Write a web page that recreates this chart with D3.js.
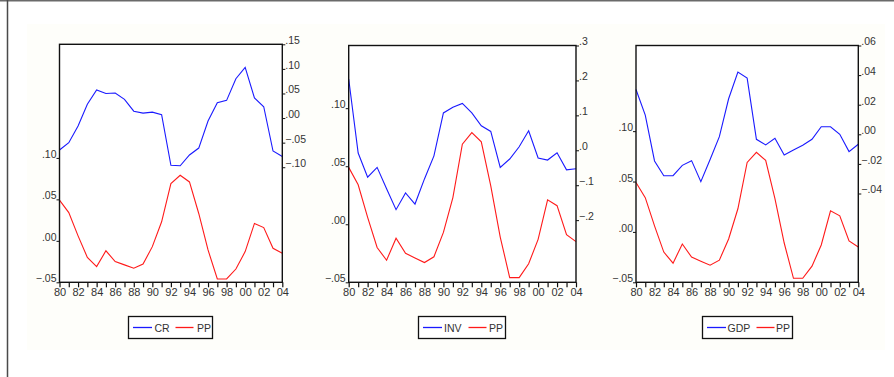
<!DOCTYPE html>
<html>
<head>
<meta charset="utf-8">
<script src="https://cdn.jsdelivr.net/npm/d3@7"></script>
<style>
  html, body { margin: 0; padding: 0; background: #ffffff; }
  svg { display: block; }
  text { font-family: "Liberation Sans", Arial, sans-serif; }
</style>
</head>
<body>
<svg id="chart" width="894" height="377"></svg>
<script>
// ---- Data ----
const years = d3.range(1980, 2005);
const xTickLabels = ["80","82","84","86","88","90","92","94","96","98","00","02","04"];

const pp  = [0.049, 0.034, 0.006, -0.020, -0.031, -0.012, -0.025, -0.029, -0.033, -0.028, -0.007, 0.023, 0.069, 0.079, 0.071, 0.033, -0.011, -0.046, -0.046, -0.034, -0.013, 0.021, 0.016, -0.009, -0.015];
const cr  = [-0.065, -0.050, -0.016, 0.028, 0.057, 0.050, 0.051, 0.038, 0.014, 0.010, 0.012, 0.007, -0.096, -0.097, -0.075, -0.061, -0.006, 0.031, 0.036, 0.080, 0.103, 0.041, 0.023, -0.067, -0.078];
const inv = [0.204, -0.008, -0.077, -0.049, -0.110, -0.170, -0.122, -0.154, -0.082, -0.016, 0.107, 0.123, 0.134, 0.107, 0.070, 0.054, -0.049, -0.025, 0.010, 0.056, -0.022, -0.028, -0.007, -0.056, -0.053];
const gdp = [0.0303, 0.013, -0.018, -0.028, -0.028, -0.021, -0.0178, -0.032, -0.017, -0.0016, 0.024, 0.042, 0.038, -0.0034, -0.0072, -0.0027, -0.014, -0.0106, -0.0074, -0.0034, 0.0051, 0.0051, 0.000, -0.0117, -0.0067];

const leftTicks   = [-0.05, 0.00, 0.05, 0.10];
const crTicks     = [-0.10, -0.05, 0.00, 0.05, 0.10, 0.15];
const invTicks    = [-0.2, -0.1, 0.0, 0.1, 0.2, 0.3];
const gdpTicks    = [-0.04, -0.02, 0.00, 0.02, 0.04, 0.06];

const seriesNames = ["CR", "INV", "GDP"];

// ---- Layout ----
const svg = d3.select("#chart");
svg.append("rect").attr("x", 27).attr("y", 24).attr("width", 858).attr("height", 326).attr("fill", "#fefefa");
svg.append("line").attr("x1", 0).attr("x2", 894).attr("y1", 0.75).attr("y2", 0.75).attr("stroke", "#6a6a6a").attr("stroke-width", 1.5);
svg.append("line").attr("x1", 7.5).attr("x2", 7.5).attr("y1", 0).attr("y2", 377).attr("stroke", "#4a4a4a").attr("stroke-width", 1.5);

const fmt2 = v => { let s = d3.format(".2f")(v); return s.replace("0.", "."); };
const fmt1 = v => { let s = d3.format(".1f")(v); return s.replace("0.", "."); };

const panels = [
  { x0: 59.5, x1: 282.3, top: 44.3, bottom: 282.3, left: [-0.05, 0.237], right: [-0.334, 0.15], rTicks: crTicks, rFmt: fmt2, data: cr, name: seriesNames[0],
    legend: { x: 128.5, y: 316.5, w: 84, l1: 4.5, t1: 26, l2: 47, t2: 68.5 } },
  { x0: 348.7, x1: 576, top: 45.5, bottom: 282.3, left: [-0.05, 0.154], right: [-0.378, 0.3], rTicks: invTicks, rFmt: fmt1, data: inv, name: seriesNames[1],
    legend: { x: 418.5, y: 316.5, w: 87, l1: 4.5, t1: 25.5, l2: 50, t2: 70.5 } },
  { x0: 636, x1: 858.3, top: 45.5, bottom: 282.3, left: [-0.05, 0.185], right: [-0.1, 0.06], rTicks: gdpTicks, rFmt: fmt2, data: gdp, name: seriesNames[2],
    legend: { x: 702.5, y: 316.5, w: 90, l1: 4.5, t1: 25, l2: 54, t2: 73.5 } }
];

panels.forEach(p => {
  const g = svg.append("g");
  const x = d3.scaleLinear().domain([1980, 2004]).range([p.x0, p.x1]);
  const yL = d3.scaleLinear().domain(p.left).range([p.bottom, p.top]);
  const yR = d3.scaleLinear().domain(p.right).range([p.bottom, p.top]);

  g.append("rect").attr("x", p.x0).attr("y", p.top).attr("width", p.x1 - p.x0).attr("height", p.bottom - p.top).attr("fill", "#ffffff");

  const lineL = d3.line().x((d, i) => x(years[i])).y(d => yL(d));
  const lineR = d3.line().x((d, i) => x(years[i])).y(d => yR(d));
  g.append("path").datum(p.data).attr("d", lineR).attr("fill", "none").attr("stroke", "#1a1aff").attr("stroke-width", 1.1);
  g.append("path").datum(pp).attr("d", lineL).attr("fill", "none").attr("stroke", "#ff1a1a").attr("stroke-width", 1.1);

  g.append("rect").attr("x", p.x0).attr("y", p.top).attr("width", p.x1 - p.x0).attr("height", p.bottom - p.top)
    .attr("fill", "none").attr("stroke", "#111").attr("stroke-width", 1.4);

  const xAxis = d3.axisBottom(x).tickValues(years).tickSize(5).tickSizeOuter(0)
    .tickFormat(d => (d % 2 === 0 ? xTickLabels[(d - 1980) / 2] : ""));
  const gx = g.append("g").attr("transform", `translate(0,${p.bottom})`).call(xAxis);
  gx.select(".domain").remove();
  gx.selectAll(".tick line").attr("stroke", "#111").attr("stroke-width", 1.2);
  gx.selectAll(".tick text").attr("font-size", 11).attr("fill", "#333").attr("y", 6).attr("dy", "0.71em");

  const yAxisL = d3.axisLeft(yL).tickValues(leftTicks).tickSize(3).tickSizeOuter(0).tickFormat(fmt2);
  const gl = g.append("g").attr("transform", `translate(${p.x0},0)`).call(yAxisL);
  gl.select(".domain").remove();
  gl.selectAll(".tick line").attr("stroke", "#111");
  gl.selectAll(".tick text").attr("font-size", 10.5).attr("fill", "#333").attr("x", -3).attr("dy", "-0.05em");

  const yAxisR = d3.axisRight(yR).tickValues(p.rTicks).tickSize(3).tickSizeOuter(0).tickFormat(p.rFmt);
  const gr = g.append("g").attr("transform", `translate(${p.x1},0)`).call(yAxisR);
  gr.select(".domain").remove();
  gr.selectAll(".tick line").attr("stroke", "#111");
  gr.selectAll(".tick text").attr("font-size", 10.5).attr("fill", "#333").attr("x", 3).attr("dy", "-0.05em");

  const L = p.legend;
  const lg = g.append("g").attr("transform", `translate(${L.x},${L.y})`);
  lg.append("rect").attr("width", L.w).attr("height", 22).attr("fill", "#ffffff").attr("stroke", "#111").attr("stroke-width", 1.3);
  lg.append("line").attr("x1", L.l1).attr("x2", L.l1 + 19).attr("y1", 11).attr("y2", 11).attr("stroke", "#1a1aff").attr("stroke-width", 1.3);
  lg.append("text").attr("x", L.t1).attr("y", 15).attr("font-size", 10.5).attr("fill", "#333").text(p.name);
  lg.append("line").attr("x1", L.l2).attr("x2", L.l2 + 18).attr("y1", 11).attr("y2", 11).attr("stroke", "#ff1a1a").attr("stroke-width", 1.3);
  lg.append("text").attr("x", L.t2).attr("y", 15).attr("font-size", 10.5).attr("fill", "#333").text("PP");
});
</script>
</body>
</html>
